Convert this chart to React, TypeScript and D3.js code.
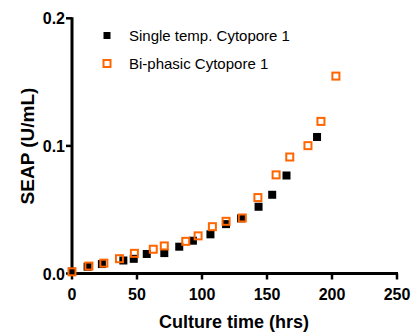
import React from "react";
import * as d3 from "d3";

const singleTime = [0, 12, 23, 39.5, 47.5, 57.5, 71, 82.5, 93, 106.5, 118.5, 130, 143.5, 154, 165, 188.5];
const singleSeap = [0.0015, 0.0053, 0.0074, 0.0102, 0.0115, 0.0153, 0.016, 0.021, 0.0257, 0.0307, 0.0387, 0.0432, 0.0523, 0.0617, 0.0768, 0.1070];
const biTime = [0, 13, 24.5, 36.5, 48, 62.5, 71, 87.5, 97, 108, 118.5, 131, 143, 157, 167.5, 181.5, 191.5, 203];
const biSeap = [0.0013, 0.0058, 0.0081, 0.0116, 0.0158, 0.019, 0.0216, 0.0252, 0.0295, 0.0367, 0.0409, 0.0435, 0.0595, 0.0773, 0.0913, 0.1002, 0.1192, 0.1547];
const xTicks = [0, 50, 100, 150, 200, 250];
const yTicks = [0, 0.1, 0.2];
const seriesNames = ["Single temp. Cytopore 1", "Bi-phasic Cytopore 1"];

const ORANGE = "#ff6600";
const FONT = "'Liberation Sans', Arial, sans-serif";

export default function App() {
  const x = d3.scaleLinear().domain([0, 250]).range([72, 397]);
  const y = d3.scaleLinear().domain([0, 0.2]).range([273.5, 18.3]);
  const single = singleTime.map((t, i) => [t, singleSeap[i]]);
  const bi = biTime.map((t, i) => [t, biSeap[i]]);
  return (
    <svg width={412} height={332} style={{ position: "absolute", left: 0, top: 0 }} fontFamily={FONT}>
      <rect width={412} height={332} fill="#fff" />
      {/* axes */}
      <line x1={x(0)} x2={x(250) + 1} y1={y(0)} y2={y(0)} stroke="#000" strokeWidth={3} />
      <line x1={x(0)} x2={x(0)} y1={y(0) + 1.5} y2={y(0.2) - 1} stroke="#000" strokeWidth={3} />
      {xTicks.map((t) => (
        <g key={"xt" + t}>
          <line x1={x(t)} x2={x(t)} y1={y(0)} y2={y(0) + 6} stroke="#000" strokeWidth={2.5} />
          <text x={x(t)} y={300} textAnchor="middle" fontSize={16} fontWeight="bold">{t}</text>
        </g>
      ))}
      {yTicks.map((t) => (
        <g key={"yt" + t}>
          <line x1={x(0) - 6} x2={x(0)} y1={y(t)} y2={y(t)} stroke="#000" strokeWidth={2.5} />
          <text x={65} y={y(t) + 6} textAnchor="end" fontSize={16} fontWeight="bold">{t.toFixed(1)}</text>
        </g>
      ))}
      <text x={234} y={328} textAnchor="middle" fontSize={18} fontWeight="bold">Culture time (hrs)</text>
      <text transform={`translate(34,146) rotate(-90)`} textAnchor="middle" fontSize={19} fontWeight="bold">SEAP (U/mL)</text>
      {/* data */}
      {single.map(([t, v], i) => (
        <rect key={"s" + i} x={x(t) - 4} y={y(v) - 4} width={8} height={8} fill="#000" />
      ))}
      {bi.map(([t, v], i) => (
        <rect key={"b" + i} x={x(t) - 3.5} y={y(v) - 3.5} width={7} height={7} fill="none" stroke={ORANGE} strokeWidth={2} />
      ))}
      {/* legend */}
      <rect x={103.5} y={32} width={7} height={7} fill="#000" />
      <text x={129} y={41} fontSize={15}>{seriesNames[0]}</text>
      <rect x={103.5} y={60} width={7} height={7} fill="none" stroke={ORANGE} strokeWidth={2} />
      <text x={129} y={69} fontSize={15}>{seriesNames[1]}</text>
    </svg>
  );
}
